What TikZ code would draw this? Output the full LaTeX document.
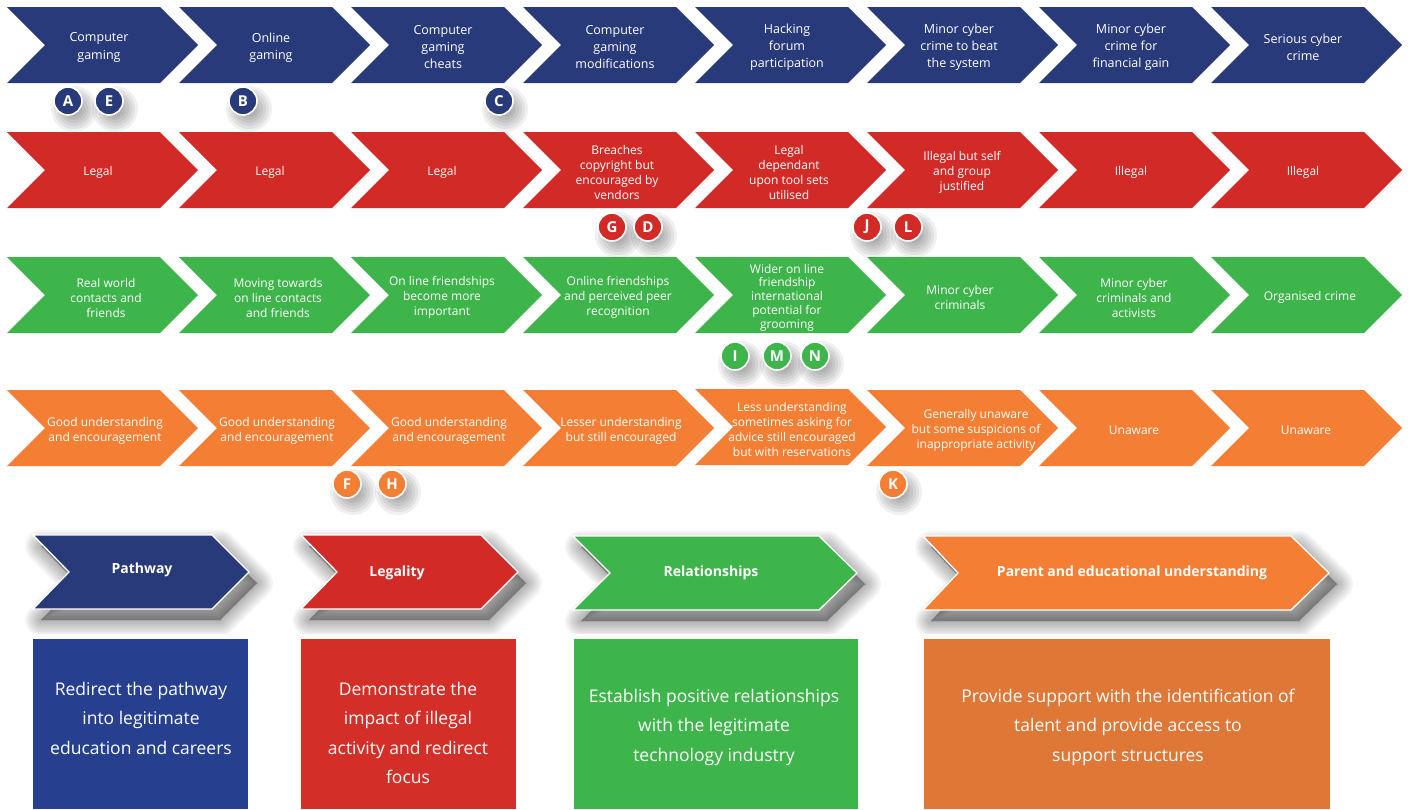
\documentclass[tikz,border=0pt]{standalone}
\usepackage{fontspec}
\setmainfont{Open Sans}
\definecolor{cnavy}{HTML}{293A7A}
\definecolor{cred}{HTML}{D22B27}
\definecolor{cgreen}{HTML}{3DB54A}
\definecolor{corange}{HTML}{F47F34}
\definecolor{bnavy}{HTML}{26408F}
\definecolor{bred}{HTML}{D32F28}
\definecolor{bgreen}{HTML}{3DB54A}
\definecolor{borange}{HTML}{DF7737}
\tikzset{
  rowtxt/.style={text=white, align=center, inner sep=0pt, yshift=-2.5pt, font=\fontsize{12}{15}\selectfont},
  badge/.style={circle, fill=#1, draw=white, line width=1.6pt, minimum size=28pt, inner sep=0pt,
    text=white, font=\fontsize{15}{15}\selectfont\bfseries},
  shadowlayer/.style={fill=black, draw=black, opacity=0.04, line join=round},
  legtxt/.style={text=white, inner sep=0pt, font=\fontsize{14}{16}\selectfont\bfseries},
  boxtxt/.style={text=white, align=center, inner sep=0pt, font=\fontsize{17.5}{29.5}\selectfont},
  legchev/.style={fill=#1, draw=white, line width=1.3pt, line join=miter}
}
% #1 x0, #2 y centre, #3 colour, #4 name, #5 extra style, #6 text
\newcommand\mychev[6]{%
  \fill[#3] (#1,#2-38) -- ++(153,0) -- ++(38,38) -- ++(-38,38) -- ++(-153,0) -- ++(38,-38) -- cycle;
  \node[rowtxt,#5] (#4) at (#1+95,#2) {#6};
}
% soft shadow under a badge at (#1,#2)
\newcommand\bshadow[2]{%
  \foreach \rr in {8,11,14,17,20,23}{\fill[black,opacity=0.06] (#1+6,#2+8) circle[radius=\rr];}%
}
% soft shadow under a legend chevron: #1 left, #2 body right, #3 tip, #4 top, #5 bottom, #6 notch
\newcommand\lshadow[6]{%
  \foreach \ww in {0,4,8,12,16,20,24,28,32}{%
    \path[shadowlayer, line width=\ww] (#1+8,#4+11) -- (#2+8,#4+11) -- (#3+8,#4/2+#5/2+11) -- (#2+8,#5+11) -- (#1+8,#5+11) -- (#6+8,#4/2+#5/2+11) -- cycle;}%
}
\begin{document}
\begin{tikzpicture}[x=1pt,y=-1pt]
\useasboundingbox (0,0) rectangle (1412,809);
\fill[white] (0,0) rectangle (1412,809);
% ---------- Row 1: pathway
\mychev{7}{45}{cnavy}{p1}{xshift=-3,font=\fontsize{12.5}{17.5}\selectfont}{Computer\\gaming}
\mychev{179}{45}{cnavy}{p2}{xshift=-3,font=\fontsize{12.5}{17.5}\selectfont}{Online\\gaming}
\mychev{351}{45}{cnavy}{p3}{xshift=-3,font=\fontsize{12.5}{17}\selectfont}{Computer\\gaming\\cheats}
\mychev{523}{45}{cnavy}{p4}{xshift=-3,font=\fontsize{12.5}{17}\selectfont}{Computer\\gaming\\modifications}
\mychev{695}{45}{cnavy}{p5}{xshift=-3,font=\fontsize{12.5}{17}\selectfont}{Hacking\\forum\\participation}
\mychev{867}{45}{cnavy}{p6}{xshift=-3,font=\fontsize{12.5}{17}\selectfont}{Minor cyber\\crime to beat\\the system}
\mychev{1039}{45}{cnavy}{p7}{xshift=-3,font=\fontsize{12.5}{17}\selectfont}{Minor cyber\\crime for\\financial gain}
\mychev{1211}{45}{cnavy}{p8}{xshift=-3,font=\fontsize{12.5}{17.5}\selectfont}{Serious cyber\\crime}
% ---------- Row 2: legality
\mychev{7}{170}{cred}{l1}{xshift=-4}{Legal}
\mychev{179}{170}{cred}{l2}{xshift=-4}{Legal}
\mychev{351}{170}{cred}{l3}{xshift=-4}{Legal}
\mychev{523}{170}{cred}{l4}{xshift=-1}{Breaches\\copyright but\\encouraged by\\vendors}
\mychev{695}{170}{cred}{l5}{xshift=-1}{Legal\\dependant\\upon tool sets\\utilised}
\mychev{867}{170}{cred}{l6}{}{Illegal but self\\and group\\justified}
\mychev{1039}{170}{cred}{l7}{xshift=-3}{Illegal}
\mychev{1211}{170}{cred}{l8}{xshift=-3}{Illegal}
% ---------- Row 3: relationships
\mychev{7}{295}{cgreen}{r1}{xshift=4}{Real world\\contacts and\\friends}
\mychev{179}{295}{cgreen}{r2}{xshift=4}{Moving towards\\on line contacts\\and friends}
\mychev{351}{295}{cgreen}{r3}{xshift=-4}{On line friendships\\become more\\important}
\mychev{523}{295}{cgreen}{r4}{}{Online friendships\\and perceived peer\\recognition}
\mychev{695}{295}{cgreen}{r5}{xshift=-3,font=\fontsize{12}{13.8}\selectfont}{Wider on line\\friendship\\international\\potential for\\grooming}
\mychev{867}{295}{cgreen}{r6}{xshift=-2}{Minor cyber\\criminals}
\mychev{1039}{295}{cgreen}{r7}{}{Minor cyber\\criminals and\\activists}
\mychev{1211}{295}{cgreen}{r8}{xshift=4}{Organised crime}
% ---------- Row 4: parent understanding
\mychev{7}{428}{corange}{u1}{xshift=3}{Good understanding\\and encouragement}
\mychev{179}{428}{corange}{u2}{xshift=3}{Good understanding\\and encouragement}
\mychev{351}{428}{corange}{u3}{xshift=3}{Good understanding\\and encouragement}
\mychev{523}{428}{corange}{u4}{xshift=3}{Lesser understanding\\but still encouraged}
\mychev{695}{427}{corange}{u5}{xshift=2,font=\fontsize{12}{14.7}\selectfont}{Less understanding\\sometimes asking for\\advice still encouraged\\but with reservations}
\mychev{867}{428}{corange}{u6}{xshift=14}{Generally unaware\\but some suspicions of\\inappropriate activity}
\mychev{1039}{428}{corange}{u7}{}{Unaware}
\mychev{1211}{428}{corange}{u8}{}{Unaware}
% ---------- Badge shadows
\bshadow{68}{101}\bshadow{109}{101}\bshadow{243}{101}\bshadow{499}{101}
\bshadow{612}{227}\bshadow{648}{227}\bshadow{867}{227}\bshadow{908}{227}
\bshadow{735}{356}\bshadow{777}{356}\bshadow{815}{356}
\bshadow{347}{484}\bshadow{392}{484}\bshadow{893}{484}
% ---------- Badges
\node[badge=cnavy] (bA) at (68,101) {A};
\node[badge=cnavy] (bE) at (109,101) {E};
\node[badge=cnavy] (bB) at (243,101) {B};
\node[badge=cnavy] (bC) at (499,101) {C};
\node[badge=cred] (bG) at (612,227) {G};
\node[badge=cred] (bD) at (648,227) {D};
\node[badge=cred] (bJ) at (867,227) {J};
\node[badge=cred] (bL) at (908,227) {L};
\node[badge=cgreen] (bI) at (735,356) {I};
\node[badge=cgreen] (bM) at (777,356) {M};
\node[badge=cgreen] (bN) at (815,356) {N};
\node[badge=corange] (bF) at (347,484) {F};
\node[badge=corange] (bH) at (392,484) {H};
\node[badge=corange] (bK) at (893,484) {K};
% ---------- Legend chevrons
\lshadow{33}{212}{249}{535}{609}{69}
\lshadow{301}{481}{518}{535}{609}{337}
\lshadow{573}{819}{857}{536}{610}{610}
\lshadow{923}{1291}{1329}{536}{610}{958}
\fill[white] (20,634) rectangle (1400,809);
\path[legchev=cnavy] (33,535) -- (212,535) -- (249,572) -- (212,609) -- (33,609) -- (69,572) -- cycle;
\node[legtxt] (kP) at (142,570) {Pathway};
\path[legchev=cred] (301,535) -- (481,535) -- (518,572) -- (481,609) -- (301,609) -- (337,572) -- cycle;
\node[legtxt] (kL) at (397,573) {Legality};
\path[legchev=cgreen] (573,536) -- (819,536) -- (857,573) -- (819,610) -- (573,610) -- (610,573) -- cycle;
\node[legtxt] (kR) at (711,573) {Relationships};
\path[legchev=corange] (923,536) -- (1291,536) -- (1329,573) -- (1291,610) -- (923,610) -- (958,573) -- cycle;
\node[legtxt] (kU) at (1132,573) {Parent and educational understanding};
% ---------- Boxes
\fill[bnavy] (33,639) rectangle (248,809);
\node[boxtxt] (tP) at (141,718) {Redirect the pathway\\into legitimate\\education and careers};
\fill[bred] (301,639) rectangle (516,809);
\node[boxtxt] (tL) at (408,733) {Demonstrate the\\impact of illegal\\activity and redirect\\focus};
\fill[bgreen] (574,639) rectangle (858,809);
\node[boxtxt] (tR) at (714,727) {Establish positive relationships\\with the legitimate\\technology industry};
\fill[borange] (924,639) rectangle (1330,809);
\node[boxtxt] (tU) at (1128,727) {Provide support with the identification of\\talent and provide access to\\support structures};
\end{tikzpicture}
\end{document}
